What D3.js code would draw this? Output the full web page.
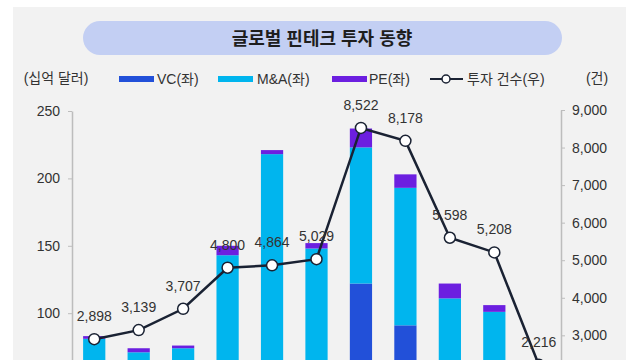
<!DOCTYPE html>
<html><head><meta charset="utf-8">
<script src="https://cdn.jsdelivr.net/npm/d3@7"></script>
<style>
html,body{margin:0;padding:0;background:#fff;overflow:hidden;}
svg{display:block;font-family:"Liberation Sans","Noto Sans CJK KR",sans-serif;}
</style></head>
<body><svg id="c" width="640" height="520"></svg>
<script>
const categories = ["2013","2014","2015","2016","2017","2018","2019","2020","2021","2022","2023"];
const vcValues  = [12, 15, 22, 25, 20, 40, 122, 91, 50, 40, 20];
const maValues  = [69, 56, 52, 118, 198, 108, 101, 102, 61, 61, 25];
const peValues  = [2, 3, 2, 7, 3, 4, 14, 10, 11, 5, 3];
const dealCounts = [2898, 3139, 3707, 4800, 4864, 5029, 8522, 8178, 5598, 5208, 2216];
const leftTicks = [0, 50, 100, 150, 200, 250];
const rightTicks = [0, 1000, 2000, 3000, 4000, 5000, 6000, 7000, 8000, 9000];
const seriesNames = ["VC(좌)", "M&A(좌)", "PE(좌)"];
const lineName = "투자 건수(우)";
const title = "글로벌 핀테크 투자 동향";
const colors = ["#2250d9", "#00b5ee", "#6c1fe0"];

const svg = d3.select("#c");
// panel
svg.append("rect").attr("x",13).attr("y",7).attr("width",613).attr("height",520).attr("fill","#f2f2f2");
// title pill
svg.append("rect").attr("x",83).attr("y",21).attr("width",479).attr("height",34).attr("rx",17).attr("fill","#c3cff3");
svg.append("text").attr("x",322).attr("y",44.5).attr("text-anchor","middle")
  .attr("font-size",18).attr("font-weight","bold").attr("fill","#1e1e1e").text(title);

const x = d3.scaleBand().domain(categories).range([72,561]).paddingInner(0.5).paddingOuter(0.25);
const yL = d3.scaleLinear().domain([0,250]).range([448,111]);
const yR = d3.scaleLinear().domain([0,9000]).range([448,110]);

// unit labels
svg.append("text").attr("x",56).attr("y",83).attr("text-anchor","middle").attr("font-size",14).attr("fill","#333").text("(십억 달러)");
svg.append("text").attr("x",597).attr("y",83).attr("text-anchor","middle").attr("font-size",14).attr("fill","#333").text("(건)");

// legend
const lg = svg.append("g");
const legItems = [{x:119,tx:157},{x:218,tx:257},{x:332,tx:369}];
legItems.forEach((p,i)=>{
  lg.append("rect").attr("x",p.x).attr("y",76).attr("width",35).attr("height",6).attr("fill",colors[i]);
  lg.append("text").attr("x",p.tx).attr("y",84).attr("font-size",14).attr("fill","#333").text(seriesNames[i]);
});
lg.append("line").attr("x1",430).attr("x2",463).attr("y1",79).attr("y2",79).attr("stroke","#1a2233").attr("stroke-width",2);
lg.append("circle").attr("cx",446).attr("cy",79).attr("r",4).attr("fill","#fff").attr("stroke","#1a2233").attr("stroke-width",1.5);
lg.append("text").attr("x",467).attr("y",84).attr("font-size",14).attr("fill","#333").text(lineName);

// axes
const axL = svg.append("g").attr("transform","translate(72,0)")
  .call(d3.axisLeft(yL).tickValues(leftTicks).tickSize(4).tickSizeOuter(0).tickPadding(8));
const axR = svg.append("g").attr("transform","translate(561,0)")
  .call(d3.axisRight(yR).tickValues(rightTicks).tickSize(4).tickSizeOuter(0).tickPadding(7).tickFormat(d3.format(",")));
[axL,axR].forEach(a=>{
  a.select(".domain").attr("stroke","#bdbdbd").attr("stroke-width",1.5);
  a.selectAll(".tick line").attr("stroke","#bdbdbd");
  a.selectAll("text").attr("font-size",14).attr("fill","#333").attr("font-family","Liberation Sans, sans-serif");
});
const axX = svg.append("g").attr("transform","translate(0,448)")
  .call(d3.axisBottom(x).tickSize(0).tickPadding(8));
axX.select(".domain").attr("stroke","#bdbdbd").attr("stroke-width",1.5);
axX.selectAll("text").attr("font-size",13).attr("fill","#333");

// stacked bars
const table = categories.map((c,i)=>({cat:c, VC:vcValues[i], MA:maValues[i], PE:peValues[i]}));
const stack = d3.stack().keys(["VC","MA","PE"])(table);
svg.append("g").selectAll("g").data(stack).join("g").attr("fill",(d,i)=>colors[i])
  .selectAll("rect").data(d=>d).join("rect")
  .attr("x",d=>x(d.data.cat)).attr("width",x.bandwidth())
  .attr("y",d=>yL(d[1])).attr("height",d=>yL(d[0])-yL(d[1]));

// line
const cx = (c)=>x(c)+x.bandwidth()/2;
const line = d3.line().x((d,i)=>cx(categories[i])).y(d=>yR(d));
svg.append("path").datum(dealCounts).attr("d",line).attr("fill","none")
  .attr("stroke","#1a2233").attr("stroke-width",2.5);
svg.append("g").selectAll("circle").data(dealCounts).join("circle")
  .attr("cx",(d,i)=>cx(categories[i])).attr("cy",d=>yR(d)).attr("r",5.5)
  .attr("fill","#fff").attr("stroke","#1a2233").attr("stroke-width",1.5);
svg.append("g").selectAll("text").data(dealCounts).join("text")
  .attr("x",(d,i)=>cx(categories[i])).attr("y",d=>yR(d)-18).attr("text-anchor","middle")
  .attr("font-size",14).attr("fill","#333").text(d=>d3.format(",")(d));
</script></body></html>
